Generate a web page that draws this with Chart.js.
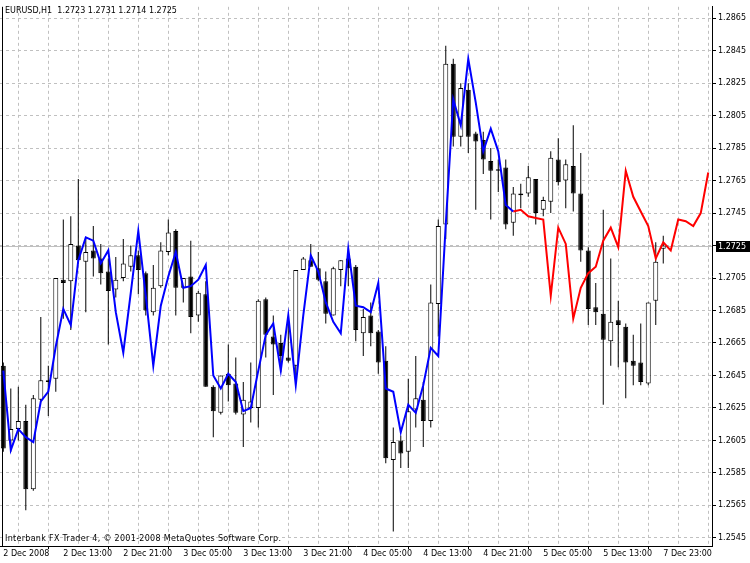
<!DOCTYPE html>
<html>
<head>
<meta charset="utf-8">
<script src="https://cdn.jsdelivr.net/npm/chart.js@4.4.1/dist/chart.umd.min.js"></script>
<style>
    html, body { margin: 0; padding: 0; background: #fff; }
    #wrap { position: relative; width: 750px; height: 563px; }
    .note { position: absolute; left: 5px; font: 8px "DejaVu Sans", sans-serif; color: #000; white-space: pre; line-height: 10px; }
    .copy { letter-spacing: 0.3px; }
</style>
</head>
<body>
<div id="wrap">
    <canvas id="chart"></canvas>
    <div class="note" style="top:6px">EURUSD,H1  1.2723 1.2731 1.2714 1.2725</div>
    <div class="note copy" style="top:534px">Interbank FX Trader 4, © 2001-2008 MetaQuotes Software Corp.</div>
</div>
<script>
const FONT = "'DejaVu Sans', sans-serif";

// hourly candles, EURUSD H1
const opens = [
    1.2651, 1.2605, 1.2612, 1.2617, 1.2575, 1.2630, 1.2641, 1.2643, 1.2704, 1.2703,
    1.2725, 1.2715, 1.2722, 1.2717, 1.2709, 1.2698, 1.2705, 1.2712, 1.2719, 1.2708,
    1.2684, 1.2700, 1.2721, 1.2734, 1.2699, 1.2706, 1.2682, 1.2695, 1.2638, 1.2622,
    1.2646, 1.2640, 1.2621, 1.2625, 1.2625, 1.2692, 1.2669, 1.2665, 1.2656, 1.2651,
    1.2710, 1.2716, 1.2711, 1.2703, 1.2682, 1.2710, 1.2717, 1.2712, 1.2671, 1.2682,
    1.2672, 1.2654, 1.2593, 1.2605, 1.2598, 1.2624, 1.2630, 1.2617, 1.2689, 1.2738,
    1.2837, 1.2792, 1.2821, 1.2794, 1.2790, 1.2777, 1.2772, 1.2773, 1.2739, 1.2756,
    1.2757, 1.2766, 1.2747, 1.2752, 1.2778, 1.2765, 1.2774, 1.2757, 1.2722, 1.2687,
    1.2683, 1.2666, 1.2679, 1.2675, 1.2654, 1.2653, 1.2640, 1.2691, 1.2723
];
const highs = [
    1.2653, 1.2637, 1.2638, 1.2627, 1.2633, 1.2681, 1.2651, 1.2705, 1.2741, 1.2743,
    1.2766, 1.2730, 1.2737, 1.2726, 1.2717, 1.2718, 1.2729, 1.2725, 1.2722, 1.2709,
    1.2713, 1.2727, 1.2741, 1.2735, 1.2705, 1.2728, 1.2697, 1.2703, 1.2639, 1.2645,
    1.2664, 1.2656, 1.2641, 1.2653, 1.2692, 1.2693, 1.2682, 1.2670, 1.2677, 1.2710,
    1.2718, 1.2726, 1.2721, 1.2709, 1.2712, 1.2716, 1.2724, 1.2713, 1.2686, 1.2690,
    1.2673, 1.2663, 1.2613, 1.2608, 1.2643, 1.2657, 1.2641, 1.2701, 1.2741, 1.2848,
    1.2840, 1.2825, 1.2825, 1.2795, 1.2795, 1.2785, 1.2778, 1.2778, 1.2761, 1.2763,
    1.2774, 1.2766, 1.2755, 1.2783, 1.2791, 1.2778, 1.2799, 1.2782, 1.2724, 1.2702,
    1.2747, 1.2717, 1.2691, 1.2677, 1.2670, 1.2677, 1.2690, 1.2727, 1.2731
];
const lows = [
    1.2598, 1.2598, 1.2605, 1.2562, 1.2574, 1.2629, 1.2620, 1.2635, 1.2680, 1.2673,
    1.2714, 1.2684, 1.2706, 1.2701, 1.2664, 1.2693, 1.2703, 1.2709, 1.2695, 1.2682,
    1.2682, 1.2699, 1.2719, 1.2682, 1.2690, 1.2671, 1.2678, 1.2638, 1.2607, 1.2621,
    1.2629, 1.2621, 1.2601, 1.2616, 1.2613, 1.2656, 1.2633, 1.2647, 1.2653, 1.2645,
    1.2710, 1.2712, 1.2703, 1.2677, 1.2682, 1.2700, 1.2700, 1.2666, 1.2657, 1.2663,
    1.2646, 1.2591, 1.2549, 1.2588, 1.2588, 1.2613, 1.2601, 1.2613, 1.2669, 1.2729,
    1.2786, 1.2786, 1.2782, 1.2747, 1.2769, 1.2741, 1.2758, 1.2735, 1.2731, 1.2748,
    1.2755, 1.2738, 1.2743, 1.2745, 1.2762, 1.2748, 1.2746, 1.2715, 1.2676, 1.2676,
    1.2627, 1.2651, 1.2650, 1.2631, 1.2639, 1.2639, 1.2639, 1.2676, 1.2714
];
const closes = [
    1.2600, 1.2612, 1.2617, 1.2575, 1.2631, 1.2642, 1.2642, 1.2705, 1.2702, 1.2726,
    1.2716, 1.2721, 1.2717, 1.2708, 1.2697, 1.2704, 1.2714, 1.2719, 1.2710, 1.2685,
    1.2699, 1.2722, 1.2733, 1.2699, 1.2705, 1.2681, 1.2696, 1.2638, 1.2623, 1.2645,
    1.2639, 1.2622, 1.2630, 1.2629, 1.2691, 1.2670, 1.2664, 1.2657, 1.2654, 1.2710,
    1.2717, 1.2712, 1.2704, 1.2683, 1.2711, 1.2716, 1.2711, 1.2673, 1.2681, 1.2671,
    1.2653, 1.2594, 1.2604, 1.2597, 1.2623, 1.2631, 1.2617, 1.2690, 1.2737, 1.2837,
    1.2792, 1.2822, 1.2792, 1.2789, 1.2778, 1.2771, 1.2771, 1.2738, 1.2757, 1.2757,
    1.2767, 1.2745, 1.2753, 1.2779, 1.2764, 1.2775, 1.2757, 1.2722, 1.2686, 1.2684,
    1.2667, 1.2678, 1.2676, 1.2653, 1.2651, 1.2641, 1.2690, 1.2715, 1.2725
];

// blue indicator over the history, red projection from bar 68 onwards
const blueLine = [
    1.2648, 1.2599, 1.2612, 1.2607, 1.2604, 1.2629, 1.2635, 1.2663, 1.2686, 1.2676,
    1.2716, 1.2730, 1.2728, 1.2714, 1.2722, 1.2684, 1.2659, 1.2696, 1.2734, 1.2694,
    1.2651, 1.2688, 1.2706, 1.2721, 1.2699, 1.2700, 1.2704, 1.2713, 1.2645, 1.2637,
    1.2646, 1.2641, 1.2623, 1.2625, 1.2648, 1.2670, 1.2677, 1.2648, 1.2682, 1.2639,
    1.2682, 1.2719, 1.2709, 1.2690, 1.2678, 1.2671, 1.2723, 1.2688, 1.2687, 1.2684,
    1.2702, 1.2637, 1.2635, 1.2610, 1.2627, 1.2622, 1.2639, 1.2662, 1.2657, 1.2738,
    1.2815, 1.2799, 1.2840, 1.2813, 1.2783, 1.2797, 1.2783, 1.2750, 1.2746
];
const redStart = 68;
const redLine = [
    1.2746, 1.2747, 1.2743, 1.2742, 1.2741, 1.2694, 1.2736, 1.2726, 1.2680, 1.2699,
    1.2708, 1.2712, 1.2728, 1.2736, 1.2724, 1.2771, 1.2755, 1.2746, 1.2737, 1.2717,
    1.2727, 1.2722, 1.2741, 1.2740, 1.2737, 1.2745, 1.2770
];

const timeLabels = [
    "2 Dec 2008", "2 Dec 13:00", "2 Dec 21:00", "3 Dec 05:00", "3 Dec 13:00", "3 Dec 21:00",
    "4 Dec 05:00", "4 Dec 13:00", "4 Dec 21:00", "5 Dec 05:00", "5 Dec 13:00", "7 Dec 23:00"
];
const priceTicks = [
    1.2545, 1.2565, 1.2585, 1.2605, 1.2625, 1.2645, 1.2665, 1.2685, 1.2705,
    1.2725, 1.2745, 1.2765, 1.2785, 1.2805, 1.2825, 1.2845, 1.2865
];
const lastPrice = 1.2725;

const idx = opens.map((_, i) => i);
const wicks = idx.map(i => ({ x: i, y: [lows[i], highs[i]] }));
const bodies = idx.map(i => ({ x: i, y: [opens[i], closes[i]] }));
const bodyFill = idx.map(i => closes[i] >= opens[i] ? "#ffffff" : "#000000");

const priceMarker = {
    id: "priceMarker",
    beforeDatasetsDraw(chart) {
        const { ctx, chartArea, scales: { x, y } } = chart;
        const py = Math.round(y.getPixelForValue(lastPrice)) + 0.5;
        const lx = Math.round(x.getPixelForValue(0)) - 0.5;
        ctx.save();
        ctx.lineWidth = 1;
        ctx.strokeStyle = "#c0c0c0";
        ctx.beginPath();
        ctx.moveTo(chartArea.left, py);
        ctx.lineTo(chartArea.right, py);
        ctx.stroke();
        ctx.strokeStyle = "#000";
        ctx.beginPath();
        ctx.moveTo(lx, chartArea.top);
        ctx.lineTo(lx, chartArea.bottom);
        ctx.stroke();
        ctx.restore();
    },
    afterDraw(chart) {
        const { ctx, chartArea, scales: { y } } = chart;
        const py = Math.round(y.getPixelForValue(lastPrice));
        ctx.save();
        ctx.fillStyle = "#000";
        ctx.fillRect(chartArea.right + 4, py - 5, 38, 11);
        ctx.fillStyle = "#fff";
        ctx.font = `8px ${FONT}`;
        ctx.textBaseline = "middle";
        ctx.fillText(lastPrice.toFixed(4), chartArea.right + 6, py + 0.5);
        ctx.restore();
    }
};

new Chart(document.getElementById("chart"), {
    type: "bar",
    data: {
        datasets: [
            {
                type: "line", data: idx.slice(0, blueLine.length).map(i => ({ x: i, y: blueLine[i] })),
                borderColor: "#0000ff", borderWidth: 2, pointRadius: 0, tension: 0, order: 0
            },
            {
                type: "line", data: redLine.map((v, i) => ({ x: redStart + i, y: v })),
                borderColor: "#ff0000", borderWidth: 2, pointRadius: 0, tension: 0, order: 0
            },
            {
                data: bodies, backgroundColor: bodyFill, borderColor: "#000", borderWidth: 1,
                borderSkipped: false, barThickness: 5, minBarLength: 1, grouped: false,
                inflateAmount: 0, order: 1
            },
            {
                data: wicks, backgroundColor: "#000", borderWidth: 0, barThickness: 1,
                grouped: false, inflateAmount: 0, order: 2
            }
        ]
    },
    options: {
        responsive: true,
        maintainAspectRatio: false,
        animation: false,
        layout: { padding: 0 },
        plugins: { legend: { display: false }, tooltip: { enabled: false } },
        scales: {
            x: {
                type: "linear", min: -0.44, max: 94.5, offset: false,
                afterBuildTicks: s => { s.ticks = []; for (let v = 0; v <= 92; v += 4) s.ticks.push({ value: v }); },
                afterFit: s => { s.height = 17; },
                ticks: {
                    autoSkip: false, maxRotation: 0, align: "start", padding: 0, color: "#000",
                    font: { family: FONT, size: 8 },
                    callback: v => v % 8 === 0 ? timeLabels[v / 8] : ""
                },
                grid: { color: "#c0c0c0", tickLength: 3, tickColor: c => c.tick && c.tick.value % 8 === 0 ? "#000" : "rgba(0,0,0,0)" },
                border: { color: "#000", dash: [3, 3] }
            },
            y: {
                position: "right", min: 1.2540, max: 1.2872,
                afterBuildTicks: s => { s.ticks = priceTicks.map(v => ({ value: v })); },
                afterFit: s => { s.width = 38; },
                ticks: {
                    autoSkip: false, padding: 2, color: "#000",
                    font: { family: FONT, size: 8 },
                    callback: v => v.toFixed(4)
                },
                grid: { color: "#c0c0c0", tickLength: 4, tickColor: "#000" },
                border: { color: "#000", dash: [3, 3] }
            }
        }
    },
    plugins: [priceMarker]
});
</script>
</body>
</html>
